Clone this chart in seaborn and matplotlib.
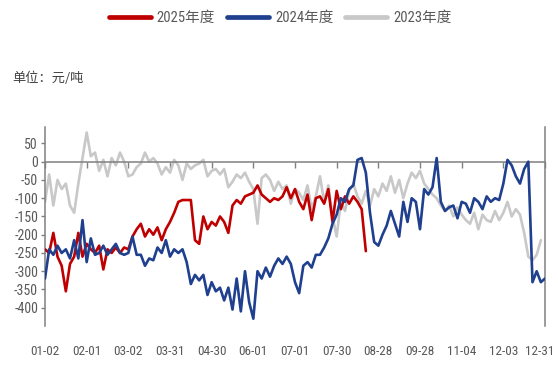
import matplotlib
matplotlib.use("Agg")
import matplotlib.pyplot as plt
from matplotlib import font_manager as fm
import seaborn as sns
import pandas as pd
from matplotlib.lines import Line2D

# x-axis date labels (one every 10 observations)
dates = ["01-02", "02-01", "03-02", "03-31", "04-30", "06-01", "07-01",
         "07-30", "08-28", "09-28", "11-04", "12-03", "12-31"]

# spread values, yuan/ton
y2025 = [-240, -250, -195, -260, -285, -355, -280, -260, -195, -260,
         -225, -240, -250, -230, -295, -240, -250, -235, -250, -235,
         -240, -205, -185, -170, -205, -185, -200, -180, -215, -185,
         -165, -140, -110, -105, -105, -105, -215, -225, -150, -185,
         -165, -175, -150, -165, -195, -120, -105, -115, -95, -90,
         -85, -65, -90, -100, -110, -100, -105, -95, -70, -100,
         -75, -110, -130, -90, -160, -100, -95, -115, -75, -165,
         -80, -130, -95, -115, -95, -110, -130, -245]

y2024 = [-320, -240, -255, -230, -250, -240, -265, -215, -265, -160,
         -275, -210, -255, -250, -230, -255, -240, -225, -250, -255,
         -250, -205, -255, -255, -285, -265, -270, -235, -250, -215,
         -260, -240, -250, -240, -275, -335, -310, -325, -310, -365,
         -330, -355, -345, -380, -345, -405, -320, -410, -300, -385,
         -430, -300, -320, -290, -315, -285, -265, -280, -260, -280,
         -330, -360, -285, -275, -290, -255, -255, -235, -210, -170,
         -145, -100, -110, -75, -65, 5, 10, -30, -140, -220,
         -230, -200, -175, -135, -170, -205, -110, -165, -100, -110,
         -185, -75, -90, -70, 10, -110, -135, -125, -120, -155,
         -110, -115, -140, -100, -110, -130, -95, -110, -100, -105,
         -60, 5, -10, -40, -60, -20, 0, -330, -300, -330,
         -320]

y2023 = [-110, -35, -120, -50, -75, -60, -120, -140, -60, 10,
         80, 15, 25, -25, 5, -40, 10, -10, 25, 0,
         -40, -35, -15, -5, 25, 0, 10, -5, -35, -15,
         -30, 5, -10, -50, -5, -20, -10, -5, 5, -40,
         -25, -20, -35, -20, -70, -55, -35, -45, -30, -55,
         -75, -170, -45, -35, -50, -80, -55, -75, -65, -115,
         -75, -85, -105, -65, -130, -95, -40, -110, -65, -150,
         -205, -110, -135, -80, -60, -95, -115, -80, -120, -75,
         -95, -60, -80, -40, -85, -50, -100, -60, -30, -45,
         -25, -60, -75, -90, -100, -120, -135, -120, -150, -125,
         -145, -160, -170, -140, -185, -145, -160, -165, -135, -160,
         -140, -110, -150, -130, -145, -195, -260, -270, -255, -215]

names = ["2025年度", "2024年度", "2023年度"]
palette = {"2025年度": "#C00000", "2024年度": "#1F3F8F", "2023年度": "#C8C8C8"}

frames = []
for name, vals in zip(names, [y2025, y2024, y2023]):
    frames.append(pd.DataFrame({"idx": range(len(vals)), "value": vals, "year": name}))
df = pd.concat(frames, ignore_index=True)


def _regular(e):
    w = e.weight
    if isinstance(w, str):
        return w.lower() in ("normal", "regular", "book")
    return 350 <= w <= 450


def narrow_font():
    """Find an installed narrow/condensed sans face for the axis text."""
    entries = [e for e in fm.fontManager.ttflist if e.style == "normal" and _regular(e)]
    prefs = ["Liberation Sans Narrow", "DejaVu Sans Condensed", "Roboto Condensed",
             "Open Sans Condensed", "Noto Sans Condensed", "Arial Narrow"]
    for p in prefs:
        for e in entries:
            if e.name == p:
                return e
    for e in entries:
        if e.stretch in ("condensed", "semi-condensed", "extra-condensed") \
                or "Narrow" in e.name or "Condensed" in e.name:
            return e
    return None


sns.set_style("white")
plt.rcParams["axes.unicode_minus"] = False
nf = narrow_font()
if nf is not None:
    base_family = [nf.name, "Noto Sans CJK SC", "DejaVu Sans"]
    stretch = nf.stretch
    tick_size = 9.5
else:
    base_family = ["Liberation Sans", "Noto Sans CJK SC", "DejaVu Sans"]
    stretch = "normal"
    tick_size = 8.5
plt.rcParams["font.family"] = base_family
plt.rcParams["font.stretch"] = stretch

fig = plt.figure(figsize=(5.58, 3.65), dpi=100)
ax = fig.add_axes([45 / 558, 1 - 326 / 365, 500 / 558, 199 / 365])

# draw the oldest year at the back
for name, z in [("2023年度", 2), ("2025年度", 3), ("2024年度", 4)]:
    sub = df[df["year"] == name]
    sns.lineplot(data=sub, x="idx", y="value", color=palette[name], lw=1.9,
                 ax=ax, zorder=z, legend=False)

n_obs = len(y2024)
ax.set_xlim(0, n_obs - 1)
ax.set_ylim(-450, 95)
ax.set_xlabel("")
ax.set_ylabel("")

ax.set_yticks(range(-400, 51, 50))
ax.tick_params(axis="y", direction="out", length=3, width=1, color="#808080",
               labelcolor="#595959", labelsize=tick_size + 0.5, pad=2, left=True)

# tick marks sit on the zero line; the date labels run along the bottom edge
ax.xaxis.remove_overlapping_locs = False
tick_pos = list(range(0, n_obs, 10))
ax.set_xticks(tick_pos)
ax.set_xticklabels([])
label_pos = tick_pos[:-1] + [tick_pos[-1] - 1.2]   # last label pulled in from the edge
ax.set_xticks(label_pos, minor=True)
ax.set_xticklabels(dates, minor=True)
ax.xaxis.set_ticks_position("both")
ax.tick_params(axis="x", which="major", bottom=False, top=True, labelbottom=False,
               labeltop=False, direction="in", length=4, width=1, color="#808080")
ax.tick_params(axis="x", which="minor", bottom=False, top=False, labelbottom=True,
               labeltop=False, labelcolor="#595959", labelsize=tick_size, pad=12)

for side in ["left", "right", "top"]:
    ax.spines[side].set_visible(True)
    ax.spines[side].set_color("#808080")
    ax.spines[side].set_linewidth(1.1)
ax.spines["top"].set_position(("data", 0))
ax.spines["bottom"].set_visible(False)

handles = [Line2D([], [], color=palette[n], lw=3.4, solid_capstyle="round") for n in names]
fig.legend(handles, names, loc="center", bbox_to_anchor=(280 / 558, 1 - 18 / 365),
           ncol=3, frameon=False, fontsize=10.5, handlelength=2.9, handletextpad=0.4,
           columnspacing=0.8, labelcolor="#595959")

fig.text(12 / 558, 1 - 78 / 365, "单位：元/吨", fontsize=9.5, color="#404040",
         va="center", ha="left", family=["Noto Sans CJK SC", "DejaVu Sans"])

fig.savefig("out.png", dpi=100)
